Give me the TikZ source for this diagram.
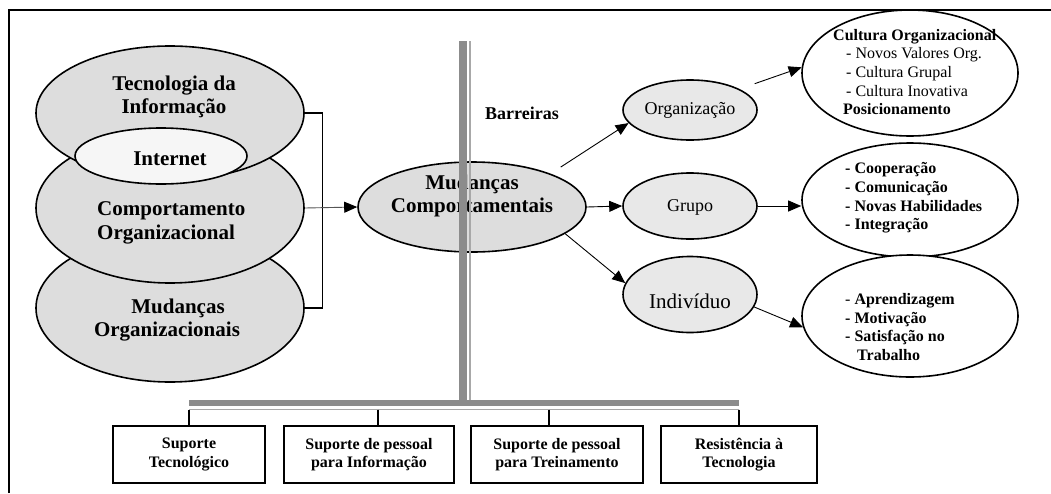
\documentclass[tikz,border=0pt]{standalone}
\usepackage{fontspec}
\setmainfont{Liberation Serif}
\usetikzlibrary{shapes.geometric,arrows.meta}
\definecolor{fillA}{HTML}{DDDDDD}
\definecolor{fillB}{HTML}{E8E8E8}
\definecolor{fillC}{HTML}{F6F6F6}
\definecolor{barA}{HTML}{8C8C8C}
\definecolor{barB}{HTML}{A8A8A8}
\definecolor{lineG}{HTML}{555555}
\begin{document}
\begin{tikzpicture}[x=1pt,y=-1pt,
  ell/.style={ellipse,draw=black,line width=1.6pt,inner sep=0pt},
  leftell/.style={ell,fill=fillA,minimum width=268pt},
  smallell/.style={ell,fill=fillB,minimum width=134pt},
  bigell/.style={ell,fill=white,minimum width=216pt},
  bigtxt/.style={inner sep=0pt,align=center,font=\fontsize{21}{23.5}\selectfont\bfseries},
  midtxt/.style={inner sep=0pt,font=\fontsize{18}{20}\selectfont},
  listtxt/.style={inner sep=0pt,align=left,anchor=west,font=\fontsize{16}{18.6}\selectfont},
  boxnode/.style={draw=black,line width=1.8pt,fill=white,minimum height=57pt,inner sep=0pt,
    align=center,font=\fontsize{16}{18.5}\selectfont\bfseries},
  arr/.style={line width=0.9pt,-{Triangle[length=13pt,width=11pt]}},
  bracket/.style={line width=1.2pt},
  barthick/.style={draw=barA},
  barthin/.style={draw=barB},
  conn/.style={line width=1.4pt}
]
\useasboundingbox (0,0) rectangle (1051,493);

% outer frame
\coordinate (fbl) at (9,493);
\coordinate (ftl) at (9,10);
\coordinate (ftr) at (1051,10);
\draw[line width=2pt] (fbl) -- (ftl) -- (ftr);

% stacked ellipses on the left
\node[leftell,minimum height=148pt] (mo) at (170,308) {};
\node[leftell,minimum height=150pt] (co) at (170,208) {};
\node[leftell,minimum height=134pt] (ti) at (170,113) {};
\node[ell,fill=fillC,minimum width=172pt,minimum height=56pt] (it) at (161,156) {};

\node[bigtxt] (tit) at (174,97) {Tecnologia da\\Informação};
\node[bigtxt] (itt) at (170,159) {Internet};
\node[bigtxt,align=left,anchor=west] (cot) at (97,223) {Comportamento\\Organizacional};
\node[bigtxt] (mot) at (167,320) {\hspace*{22pt}Mudanças\\Organizacionais};

% bracket joining the three themes
\draw[bracket] (ti.east) -- ++(18,0) |- (mo.east);

% central ellipse
\node[ell,fill=fillA,minimum width=228pt,minimum height=90pt] (mc) at (472,207) {};
\node[bigtxt] (mct) at (472,196) {Mudanças\\Comportamentais};
\draw[arr,draw=lineG,-{Triangle[length=13pt,width=11pt,color=black]}] (co.east) -- (mc.west);

% barrier: double grey bar, vertical then horizontal
\coordinate (vt1) at (463,41);
\coordinate (vb1) at (463,403);
\coordinate (vt2) at (470,41);
\coordinate (vb2) at (470,400);
\coordinate (hl1) at (189,403);
\coordinate (hr1) at (739,403);
\coordinate (hl2) at (189,409.5);
\coordinate (hr2) at (739,409.5);
\draw[barthick,line width=8pt] (vt1) -- (vb1);
\draw[barthin,line width=2.2pt] (vt2) -- (vb2);
\draw[barthick,line width=6pt] (hl1) -- (hr1);
\draw[barthin,line width=1.6pt] (hl2) -- (hr2);

\node[inner sep=0pt,font=\fontsize{18}{20}\selectfont\bfseries] (bar) at (522,113) {Barreiras};

% levels of change
\node[smallell,minimum height=60pt] (org) at (690,110) {};
\node[smallell,minimum height=66pt] (gru) at (690,206) {};
\node[smallell,minimum height=76pt] (ind) at (690,294.5) {};
\node[midtxt] (orgt) at (690,110) {Organização};
\node[midtxt] (grut) at (690,207) {Grupo};
\node[midtxt,font=\fontsize{21}{23}\selectfont] (indt) at (690,301) {Indivíduo};

\draw[arr,shorten <=12pt] (mc.23) -- (org.192);
\draw[arr] (mc.east) -- (gru.west);
\draw[arr] (mc.-16) -- (ind.170);

% outcomes of each level
\node[bigell,minimum height=126pt] (cul) at (910,73) {};
\node[bigell,minimum height=114pt] (grb) at (910,200) {};
\node[bigell,minimum height=122pt] (inb) at (910,316) {};

\node[listtxt] (cult) at (833,72) {\textbf{Cultura Organizacional}\\
  \hspace*{13pt}- Novos Valores Org.\\
  \hspace*{13pt}- Cultura Grupal\\
  \hspace*{13pt}- Cultura Inovativa\\
  \hspace*{10pt}\textbf{Posicionamento}};
\node[listtxt,font=\fontsize{16}{18.6}\selectfont\bfseries] (grbt) at (845,198) {- Cooperação\\
  - Comunicação\\
  - Novas Habilidades\\
  - Integração};
\node[listtxt] (inbt) at (845,327) {- \textbf{Aprendizagem}\\
  \textbf{- Motivação}\\
  \textbf{- Satisfação no}\\
  \hspace*{12pt}\textbf{Trabalho}};

\draw[arr,shorten <=16pt] (org.23) -- (cul.177);
\draw[arr] (gru.east) -- (gru.east -| grb.west);
\draw[arr] (ind.-11) -- (inb.186);

% supporting factors below the barrier
\node[boxnode,minimum width=152pt] (b1) at (189,454.5) {Suporte\\Tecnológico};
\node[boxnode,minimum width=170pt] (b2) at (369,454.5) {Suporte de pessoal\\para Informação};
\node[boxnode,minimum width=172pt] (b3) at (557,454.5) {Suporte de pessoal\\para Treinamento};
\node[boxnode,minimum width=156pt] (b4) at (739,454.5) {Resistência à\\Tecnologia};

\coordinate (s1) at (189,409.5);
\coordinate (s2) at (378,409.5);
\coordinate (s3) at (549,409.5);
\coordinate (s4) at (739,409.5);
\draw[conn] (s1) -- (s1 |- b1.north);
\draw[conn] (s2) -- (s2 |- b2.north);
\draw[conn] (s3) -- (s3 |- b3.north);
\draw[conn] (s4) -- (s4 |- b4.north);
\end{tikzpicture}
\end{document}
